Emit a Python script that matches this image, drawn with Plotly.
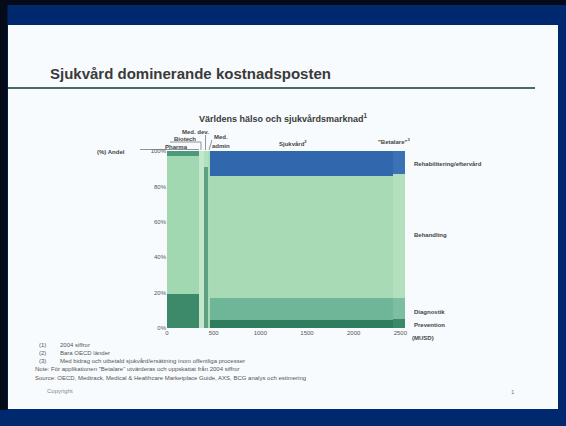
import plotly.graph_objects as go

# ---- data ----
columns = ["Pharma", "Biotech", "Med. dev.", "Med. admin", "Sjukvård", "Betalare"]
widths = [340, 60, 40, 20, 1965, 125]          # market size, MUSD
prevention = [19, 0, 0, 0, 4.5, 5]               # share, %
diagnostik = [0, 0, 91, 0, 12.5, 12]
behandling = [78, 100, 9, 100, 69, 70]
rehab = [3, 0, 0, 0, 14, 13]
segment_labels = ["Prevention", "Diagnostik", "Behandling", "Rehabilitering/eftervård"]
x_ticks = [0, 500, 1000, 1500, 2000, 2500]
y_ticks = [0, 20, 40, 60, 80, 100]

colors = {
    "Prevention": ["#3d8a6b", "#c4e7cb", "#5f9f82", "#a9dbb6", "#2f7c5f", "#3b8969"],
    "Diagnostik": ["#6db596", "#c4e7cb", "#5f9f82", "#a9dbb6", "#6fb698", "#7cbe9f"],
    "Behandling": ["#a2d8b1", "#c4e7cb", "#b2e0be", "#a9dbb6", "#a8dbb5", "#b4dfbf"],
    "Rehabilitering/eftervård": ["#4e997b", "#c4e7cb", "#b2e0be", "#a9dbb6", "#3167ad", "#3a72b5"],
}
series = {"Prevention": prevention, "Diagnostik": diagnostik,
          "Behandling": behandling, "Rehabilitering/eftervård": rehab}

# ---- geometry ----
W, H = 566, 426
L, R_px, T, B_px = 167, 405, 151, 328
PW, PH = R_px - L, B_px - T


def X(px):
    return (px - L) / PW


def Y(py):
    return (B_px - py) / PH


centers = []
acc = 0
for w in widths:
    centers.append(acc + w / 2)
    acc += w

fig = go.Figure()
for name in segment_labels:
    fig.add_trace(go.Bar(
        x=centers, y=series[name], width=widths, name=name,
        marker=dict(color=colors[name], line=dict(width=0)),
        showlegend=False, hoverinfo="skip"))

BLUE = "#00286e"
SLIDE = "#f8fbfd"
GRAY = "#555555"
FONT = "Liberation Sans, Arial, sans-serif"

shapes = [
    dict(type="rect", xref="paper", yref="paper", x0=X(0), x1=X(W), y0=Y(5), y1=Y(0),
         fillcolor="#050a18", line=dict(width=0), layer="below"),
    dict(type="rect", xref="paper", yref="paper", x0=X(0), x1=X(7.5), y0=Y(410), y1=Y(5),
         fillcolor="#050a18", line=dict(width=0), layer="below"),
    dict(type="rect", xref="paper", yref="paper", x0=X(8), x1=X(558), y0=Y(409), y1=Y(25),
         fillcolor=SLIDE, line=dict(width=0), layer="below"),
    dict(type="line", xref="paper", yref="paper", x0=X(8), x1=X(535), y0=Y(88), y1=Y(88),
         line=dict(color="#4a6a5f", width=2)),
    # brackets for small columns
    dict(type="line", xref="paper", yref="paper", x0=X(140), x1=X(199), y0=Y(149.5), y1=Y(149.5),
         line=dict(color="#666", width=0.7)),
    dict(type="line", xref="paper", yref="paper", x0=X(170), x1=X(201), y0=Y(142), y1=Y(142),
         line=dict(color="#666", width=0.7)),
    dict(type="line", xref="paper", yref="paper", x0=X(201), x1=X(201), y0=Y(150), y1=Y(142),
         line=dict(color="#666", width=0.7)),
    dict(type="line", xref="paper", yref="paper", x0=X(205.5), x1=X(205.5), y0=Y(150), y1=Y(135),
         line=dict(color="#666", width=0.7)),
    dict(type="line", xref="paper", yref="paper", x0=X(209), x1=X(212), y0=Y(150), y1=Y(140),
         line=dict(color="#666", width=0.7)),
]

ann = []


def text(px, py, s, size=6, color=GRAY, anchor="left", bold=False):
    ann.append(dict(xref="paper", yref="paper", x=X(px), y=Y(py), text=(f"<b>{s}</b>" if bold else s),
                    showarrow=False, xanchor=anchor, yanchor="middle",
                    font=dict(size=size, color=color, family=FONT)))


text(48, 74, "Sjukvård dominerande kostnadsposten", size=15, color="#3a3a3a", bold=True)
text(283, 118, "Världens hälso och sjukvårdsmarknad<sup>1</sup>", size=9, color="#3a3a3a", anchor="center", bold=True)
text(95, 152, "(%) Andel", size=6, color="#444", bold=True)
text(195, 132, "Med. dev.", size=6, color="#444", anchor="center", bold=True)
text(185, 139, "Biotech", size=6, color="#444", anchor="center", bold=True)
text(176, 147, "Pharma", size=6, color="#444", anchor="center", bold=True)
text(221, 137, "Med.", size=6, color="#444", anchor="center", bold=True)
text(221, 146, "admin", size=6, color="#444", anchor="center", bold=True)
text(293, 143, "Sjukvård<sup>2</sup>", size=6, color="#444", anchor="center", bold=True)
text(394, 141, "\"Betalare\"<sup>3</sup>", size=6, color="#444", anchor="center", bold=True)
text(412, 164, "Rehabilitering/eftervård", size=6, color="#444", bold=True)
text(412, 235, "Behandling", size=6, color="#444", bold=True)
text(412, 312, "Diagnostik", size=6, color="#444", bold=True)
text(412, 325, "Prevention", size=6, color="#444", bold=True)
text(410, 338, "(MUSD)", size=6, color="#444", bold=True)

foot = [
    (345, "(1)", "2004 siffror"),
    (353, "(2)", "Bara OECD länder"),
    (361, "(3)", "Med bidrag och utbetald sjukvård/ersättning inom offentliga processer"),
]
for py, n, s in foot:
    text(37, py, n, size=6, color=GRAY)
    text(58, py, s, size=6, color=GRAY)
text(33, 369, "Note: För applikationen \"Betalare\" utvärderas och uppskattat från 2004 siffror", size=6, color=GRAY)
text(33, 378, "Source: OECD, Medtrack, Medical & Healthcare Marketplace Guide, AXS, BCG analys och estimering", size=6, color=GRAY)
text(45, 391, "Copyright", size=6, color="#888")
text(513, 392, "1", size=6, color="#777", anchor="center")

fig.update_layout(
    width=W, height=H,
    margin=dict(l=L, r=W - R_px, t=T, b=H - B_px, pad=0),
    paper_bgcolor=BLUE, plot_bgcolor=SLIDE,
    barmode="stack", bargap=0,
    shapes=shapes, annotations=ann,
    font=dict(family=FONT, color=GRAY),
    xaxis=dict(range=[0, 2550], tickvals=x_ticks, ticktext=[str(v) for v in x_ticks],
               showgrid=False, zeroline=False, showline=False, ticks="",
               tickfont=dict(size=6, color="#555"), fixedrange=True),
    yaxis=dict(range=[0, 100], tickvals=y_ticks, ticktext=[f"{v}%" for v in y_ticks],
               showgrid=False, zeroline=False, showline=False, ticks="",
               tickfont=dict(size=6, color="#555"), fixedrange=True),
)

fig.write_html("out.html", config={"displayModeBar": False},
               post_script="document.body.style.margin='0';document.body.style.overflow='hidden';")
